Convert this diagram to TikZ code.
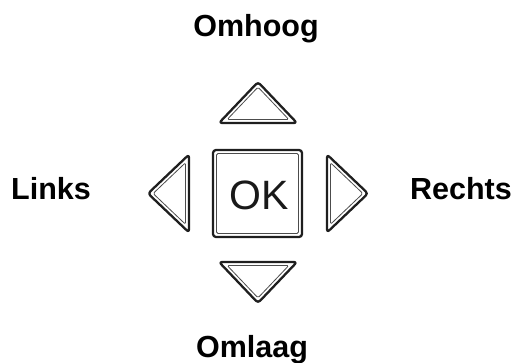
\documentclass[tikz,border=0pt]{standalone}
\usepackage{fontspec}
\setmainfont{Liberation Sans}
\begin{document}
\begin{tikzpicture}[x=1pt,y=-1pt,
  outerline/.style={draw=black!88,line width=2.3pt,rounded corners=3pt,line join=round},
  innerline/.style={draw=black!70,line width=0.8pt,rounded corners=1.5pt,line join=round},
  lbl/.style={font=\fontsize{30.5}{32}\selectfont\bfseries,anchor=base,inner sep=0pt},
  tri/.pic={
    \draw[outerline] (0,-24.27) -- (39,16.73) -- (-39,16.73) -- cycle;
    \draw[innerline,scale=0.79] (0,-24.27) -- (39,16.73) -- (-39,16.73) -- cycle;
  }]
\useasboundingbox (0,0) rectangle (521,363);
% arrow buttons
\pic (up) at (258,106.3) {tri};
\pic[rotate=180] (down) at (258,278.7) {tri};
\pic[rotate=90] (left) at (172.3,193.5) {tri};
\pic[rotate=-90] (right) at (343.7,193.5) {tri};
% OK button
\node[outerline,minimum width=89pt,minimum height=87pt,inner sep=0pt] (okbox) at (257.5,193.5) {};
\node[innerline,minimum width=82pt,minimum height=80pt,inner sep=0pt] (okinner) at (257.5,193.5) {};
\node[font=\fontsize{41}{43}\selectfont,text=black!90,inner sep=0pt] (ok) at (259,195) {OK};
% labels
\node[lbl] (omhoog) at (256,37) {Omhoog};
\node[lbl] (links) at (51,200) {Links};
\node[lbl] (rechts) at (461,200) {Rechts};
\node[lbl] (omlaag) at (252,357) {Omlaag};
\end{tikzpicture}
\end{document}
